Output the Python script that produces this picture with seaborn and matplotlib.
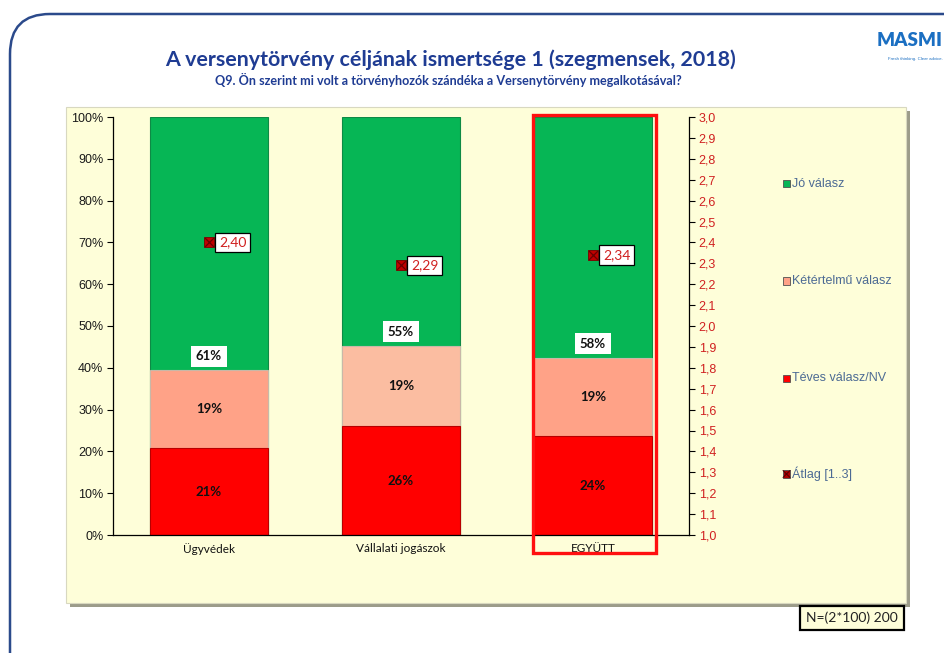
import matplotlib
matplotlib.use('Agg')
import matplotlib.pyplot as plt
import seaborn as sns
import numpy as np
from matplotlib.patches import Rectangle, FancyBboxPatch
from matplotlib.transforms import IdentityTransform

# ---------------- data ----------------
categories = ['Ügyvédek', 'Vállalati jogászok', 'EGYÜTT']
teves = [20.7, 26.0, 23.6]          # Téves válasz/NV
ketertelmu = [18.7, 19.2, 18.8]     # Kétértelmű válasz
jo = [60.6, 54.8, 57.6]             # Jó válasz
atlag = [2.40, 2.29, 2.34]          # Átlag [1..3]
series_names = ['Jó válasz', 'Kétértelmű válasz', 'Téves válasz/NV', 'Átlag [1..3]']
left_ticks = [0, 10, 20, 30, 40, 50, 60, 70, 80, 90, 100]
right_ticks = [1.0, 1.1, 1.2, 1.3, 1.4, 1.5, 1.6, 1.7, 1.8, 1.9, 2.0,
               2.1, 2.2, 2.3, 2.4, 2.5, 2.6, 2.7, 2.8, 2.9, 3.0]
title = 'A versenytörvény céljának ismertsége 1 (szegmensek, 2018)'
subtitle = 'Q9. Ön szerint mi volt a törvényhozók szándéka a Versenytörvény megalkotásával?'
n_note = 'N=(2*100) 200'

# ---------------- style ----------------
sns.set_theme(style='white')
plt.rcParams['font.family'] = ['Liberation Sans', 'DejaVu Sans']

GREEN = '#06B655'
PINKS = ['#FFA287', '#FBBDA1', '#FFA287']
RED = '#FF0000'
DARKRED = '#B00000'
PANEL = '#FEFED9'
NAVY = '#2B4A8B'
TITLE_BLUE = '#1F3C93'
LEG_TXT = '#4C6A94'
AVG_TXT = '#D02020'
LATO = ['Lato', 'DejaVu Sans']

W, H = 945, 653
fig = plt.figure(figsize=(W / 100, H / 100), dpi=100)
fig.patch.set_facecolor('white')

def fx(px):
    return px / W

def fy(py):
    return 1 - py / H

# outer rounded frame (pixel coordinates)
frame = FancyBboxPatch((10, -40), 980, H - 14 + 40,
                       boxstyle='round,pad=0,rounding_size=40',
                       transform=IdentityTransform(), facecolor='none',
                       edgecolor=NAVY, linewidth=1.8, zorder=-1)
fig.patches.append(frame)

# yellow panel with shadow
px0, px1, py0, py1 = 66, 906, 107, 603
shadow = Rectangle((fx(px0 + 4), fy(py1 + 4)), fx(px1 - px0), fy(py0) - fy(py1),
                   transform=fig.transFigure, facecolor='#9C9C8A', edgecolor='none', zorder=-3)
panel = Rectangle((fx(px0), fy(py1)), fx(px1 - px0), fy(py0) - fy(py1),
                  transform=fig.transFigure, facecolor=PANEL, edgecolor='#D8D8C0',
                  linewidth=0.8, zorder=-2)
fig.patches.extend([shadow, panel])

# axes
ax = fig.add_axes([fx(113), fy(535), fx(689 - 113), fy(117) - fy(535)])
ax.patch.set_alpha(0)

pos = np.arange(len(categories))
cum_pink = [t + k for t, k in zip(teves, ketertelmu)]
cum_all = [t + k + j for t, k, j in zip(teves, ketertelmu, jo)]
bw = 0.615

sns.barplot(x=pos, y=cum_all, color=GREEN, width=bw, ax=ax, native_scale=True,
            edgecolor='#0E8A45', linewidth=0.8, saturation=1)
sns.barplot(x=pos, y=cum_pink, hue=pos, palette=PINKS, width=bw, ax=ax, native_scale=True,
            edgecolor='#C8B8A8', linewidth=0.8, saturation=1, legend=False)
sns.barplot(x=pos, y=teves, color=RED, width=bw, ax=ax, native_scale=True,
            edgecolor='#B80000', linewidth=0.8, saturation=1)

ax.set_xlim(-0.5, len(categories) - 0.5)
ax.set_ylim(0, 100)
ax.set_yticks(left_ticks)
ax.set_yticklabels([f'{v}%' for v in left_ticks], fontsize=9, color='#1A1A1A')
ax.set_xticks(pos)
ax.set_xticklabels(categories, fontsize=8.5, color='#111111', family=LATO)
ax.set_xlabel('')
ax.set_ylabel('')
ax.tick_params(axis='y', direction='out', length=4, width=0.8, color='black', pad=3, left=True)
ax.tick_params(axis='x', length=0, pad=6)
for s in ['top', 'right']:
    ax.spines[s].set_visible(False)
for s in ['left', 'bottom']:
    ax.spines[s].set_color('black')
    ax.spines[s].set_linewidth(0.9)

# data labels
lab_font = dict(fontsize=9.5, fontweight='bold', color='#111111', family=LATO,
                ha='center', va='center')
for i in pos:
    ax.text(i, teves[i] / 2, f'{teves[i]:.0f}%', **lab_font)
    ax.text(i, teves[i] + ketertelmu[i] / 2, f'{ketertelmu[i]:.0f}%', **lab_font)
    ax.text(i, cum_pink[i] + 3.4, f'{jo[i]:.0f}%',
            bbox=dict(facecolor='white', edgecolor='none', pad=3.2), **lab_font)

# highlight rectangle for EGYÜTT
hl = Rectangle((len(categories) - 1 - 0.313, -4.3), 0.641, 104.8, transform=ax.transData,
               facecolor='none', edgecolor='#FF1010', linewidth=2.4, clip_on=False, zorder=5)
ax.add_patch(hl)

# secondary axis (average)
ax2 = ax.twinx()
ax2.set_ylim(1, 3)
sns.scatterplot(x=pos, y=atlag, ax=ax2, marker='s', s=62, color='#C00000',
                edgecolor='#7A0000', linewidth=0.6, zorder=6, legend=False)
sns.scatterplot(x=pos, y=atlag, ax=ax2, marker='x', s=40, color='#6A0000',
                linewidth=0.9, zorder=7, legend=False)
for i in pos:
    ax2.annotate(f'{atlag[i]:.2f}'.replace('.', ','), (i, atlag[i]), xytext=(10, 0),
                 textcoords='offset pixels', ha='left', va='center', fontsize=10,
                 color=AVG_TXT, family=LATO, zorder=8,
                 bbox=dict(facecolor='white', edgecolor='black', linewidth=0.9, pad=2.8))
ax2.set_yticks(right_ticks)
ax2.set_yticklabels([f'{v:.1f}'.replace('.', ',') for v in right_ticks], fontsize=9, color=AVG_TXT)
ax2.tick_params(axis='y', direction='out', length=4, width=0.8, color='black', pad=3, right=True)
ax2.set_ylabel('')
ax2.patch.set_alpha(0)
ax2.grid(False)
ax.grid(False)
for s in ['top', 'left', 'bottom']:
    ax2.spines[s].set_visible(False)
ax2.spines['right'].set_color('black')
ax2.spines['right'].set_linewidth(0.9)
ax.set_xlim(-0.5, len(categories) - 0.5)

# titles
fig.text(fx(451), fy(60), title, ha='center', va='center', fontsize=15.4, fontweight='bold',
         color=TITLE_BLUE, family=LATO)
fig.text(fx(448), fy(80), subtitle, ha='center', va='center', fontsize=9.1, fontweight='bold',
         color=TITLE_BLUE, family=LATO)

# legend (custom, vertically spread)
leg_y = [184, 281, 378, 474]
leg_colors = [GREEN, PINKS[0], RED, DARKRED]
for name, yy, c in zip(series_names, leg_y, leg_colors):
    sq = Rectangle((fx(783), fy(yy + 3.5)), fx(7), fy(yy - 3.5) - fy(yy + 3.5),
                   transform=fig.transFigure, facecolor=c, edgecolor='#505050', linewidth=0.6)
    fig.patches.append(sq)
    if name == series_names[-1]:
        fig.lines.append(plt.Line2D([fx(783), fx(790)], [fy(yy + 3.5), fy(yy - 3.5)],
                                    transform=fig.transFigure, color='#500000', lw=0.7))
        fig.lines.append(plt.Line2D([fx(783), fx(790)], [fy(yy - 3.5), fy(yy + 3.5)],
                                    transform=fig.transFigure, color='#500000', lw=0.7))
    fig.text(fx(792), fy(yy), name, ha='left', va='center', fontsize=9, color=LEG_TXT)

# N note box
fig.text(fx(852), fy(618), n_note, ha='center', va='center', fontsize=10, color='#222222',
         family=LATO,
         bbox=dict(facecolor=PANEL, edgecolor='black', linewidth=1.6,
                   boxstyle='square,pad=0.42'))

# logo
fig.text(fx(943), fy(41), 'MASMI', ha='right', va='center', fontsize=13.5, fontweight='heavy',
         color='#1B6FC2', family=LATO)
fig.text(fx(943), fy(59), 'Fresh thinking. Clear advice.', ha='right', va='center', fontsize=3.2,
         color='#1B6FC2')

fig.savefig('out.png', dpi=100)
